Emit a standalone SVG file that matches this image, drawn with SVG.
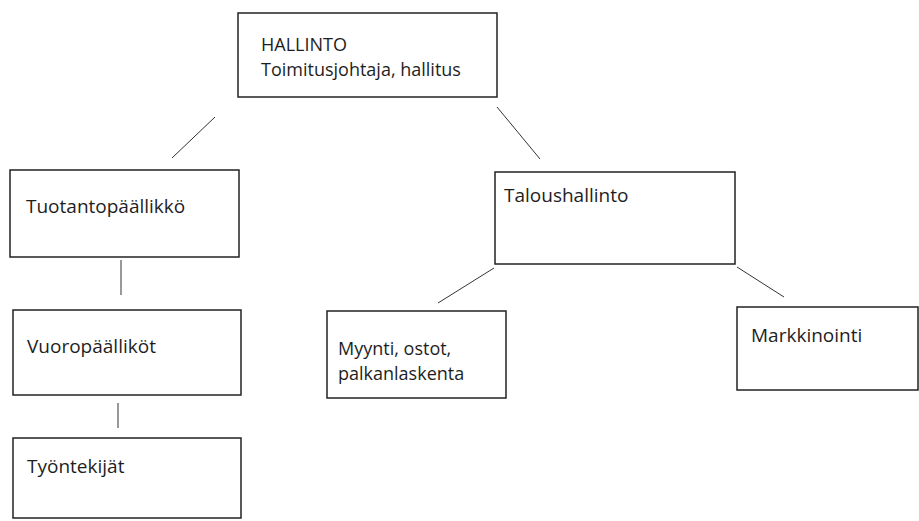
<svg xmlns="http://www.w3.org/2000/svg" width="919" height="521" viewBox="0 0 919 521">
<style>
.box{fill:#fff;stroke:#222;stroke-width:1.5}
.t{font-family:"Open Sans","Noto Sans",sans-serif;font-size:19px;fill:#1e1e1e}
.t2{font-family:"Open Sans","Noto Sans",sans-serif;font-size:18px;fill:#1e1e1e}
.c line{stroke:#333;stroke-width:1}
</style>
<rect width="919" height="521" fill="#fff"/>
<g class="c" id="connectors">
<line x1="215" y1="117" x2="172" y2="158"/>
<line x1="497" y1="107" x2="540" y2="159"/>
<line x1="121" y1="260" x2="121" y2="295"/>
<line x1="118" y1="403" x2="118" y2="428"/>
<line x1="494" y1="268" x2="438" y2="303"/>
<line x1="737" y1="267" x2="784" y2="297"/>
</g>
<g id="hallinto"><rect class="box" x="238" y="13" width="259" height="84"/>
<text class="t2" x="261" y="51">HALLINTO</text><text class="t2" x="261" y="76">Toimitusjohtaja, hallitus</text></g>
<g id="tuotanto"><rect class="box" x="10" y="170" width="229" height="87"/>
<text class="t" x="26" y="213">Tuotantopäällikkö</text></g>
<g id="vuoro"><rect class="box" x="13" y="310" width="228" height="85"/>
<text class="t" x="27" y="353">Vuoropäälliköt</text></g>
<g id="tyontekijat"><rect class="box" x="13" y="438" width="228" height="80"/>
<text class="t" x="27" y="473">Työntekijät</text></g>
<g id="talous"><rect class="box" x="495" y="172" width="240" height="92"/>
<text class="t" x="504" y="202">Taloushallinto</text></g>
<g id="myynti"><rect class="box" x="327" y="311" width="179" height="87"/>
<text class="t2" x="338" y="355">Myynti, ostot,</text><text class="t2" x="338" y="380">palkanlaskenta</text></g>
<g id="markkinointi"><rect class="box" x="737" y="307" width="181" height="83"/>
<text class="t" x="751" y="342">Markkinointi</text></g>
</svg>
